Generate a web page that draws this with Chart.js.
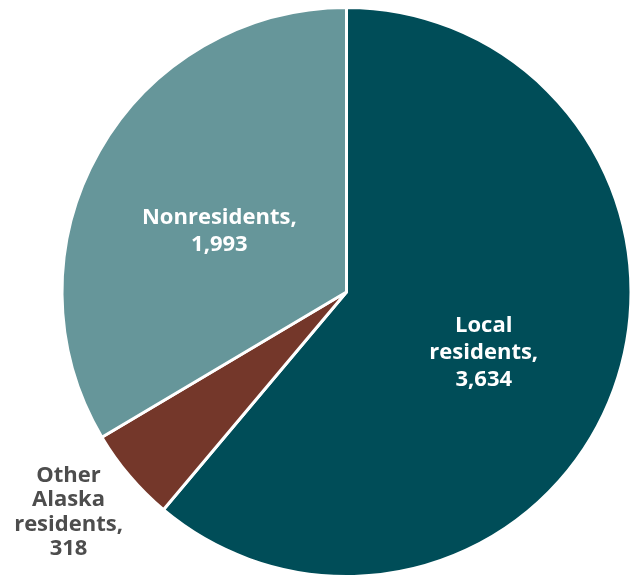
<!DOCTYPE html>
<html>
<head>
<meta charset="utf-8">
<script src="https://cdn.jsdelivr.net/npm/chart.js@4.4.0/dist/chart.umd.min.js"></script>
<style>
  html, body { margin: 0; padding: 0; background: #ffffff; overflow: hidden; }
  #wrap { position: relative; width: 634px; height: 578px; }
</style>
</head>
<body>
<div id="wrap"><canvas id="pie"></canvas></div>
<script>
// Visitor origin counts
const categories = ['Local residents', 'Other Alaska residents', 'Nonresidents'];
const counts = [3634, 318, 1993];
const sliceColors = ['#004d58', '#74372a', '#66969a'];

// Label placement per slice: angle shift (deg) from the slice's mid-angle,
// distance as a fraction of the radius, text colour and line height
const labelStyle = [
  { shift: 3.7, dist: 0.527, color: '#ffffff', lineHeight: 27 },
  { shift: 1.9, dist: 1.247, color: '#4d4d4d', lineHeight: 24.5 },
  { shift: -4.2, dist: 0.495, color: '#ffffff', lineHeight: 26.5 }
];
// Line breaks used for each label's name
const labelLines = [
  ['Local', 'residents,'],
  ['Other', 'Alaska', 'residents,'],
  ['Nonresidents,']
];

const fmt = new Intl.NumberFormat('en-US');

const sliceLabels = {
  id: 'sliceLabels',
  afterDatasetsDraw(chart) {
    const ctx = chart.ctx;
    const meta = chart.getDatasetMeta(0);
    ctx.save();
    ctx.font = 'bold 22px "Open Sans", "Noto Sans", sans-serif';
    ctx.textAlign = 'center';
    ctx.textBaseline = 'middle';
    meta.data.forEach((arc, i) => {
      const p = arc.getProps(['x', 'y', 'startAngle', 'endAngle', 'outerRadius'], true);
      const st = labelStyle[i];
      const mid = (p.startAngle + p.endAngle) / 2 + st.shift * Math.PI / 180;
      const r = p.outerRadius * st.dist;
      const cx = p.x + Math.cos(mid) * r;
      const cy = p.y + Math.sin(mid) * r;
      const lines = labelLines[i].concat([fmt.format(counts[i])]);
      const top = cy - (lines.length - 1) * st.lineHeight / 2;
      ctx.fillStyle = st.color;
      lines.forEach((t, k) => ctx.fillText(t, cx, top + k * st.lineHeight));
    });
    ctx.restore();
  }
};

new Chart(document.getElementById('pie'), {
  type: 'pie',
  data: {
    labels: categories,
    datasets: [{
      data: counts,
      backgroundColor: sliceColors,
      borderColor: '#ffffff',
      borderWidth: 3
    }]
  },
  options: {
    responsive: true,
    maintainAspectRatio: false,
    animation: false,
    layout: { padding: { top: 6, bottom: 0, left: 59, right: 0 } },
    plugins: {
      legend: { display: false },
      tooltip: { enabled: false }
    }
  },
  plugins: [sliceLabels]
});
</script>
</body>
</html>
